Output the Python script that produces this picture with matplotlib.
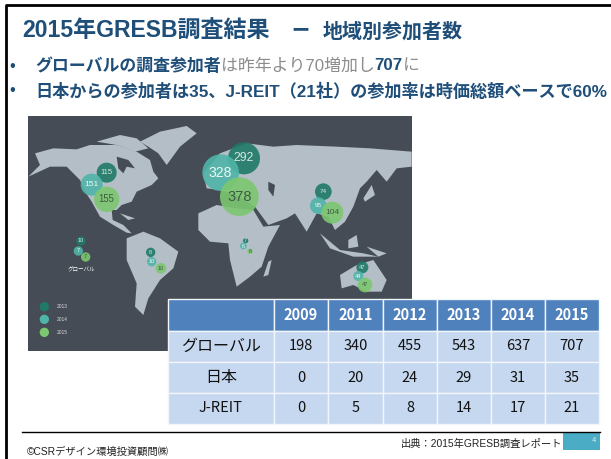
import matplotlib
matplotlib.use("Agg")
import matplotlib.pyplot as plt
from matplotlib.patches import Rectangle, Polygon, Circle

plt.rcParams['font.family'] = ['Liberation Sans', 'Noto Sans CJK JP', 'DejaVu Sans']
TABLE_FONT = ['Noto Sans CJK JP', 'DejaVu Sans']

# table data
years = ['2009', '2011', '2012', '2013', '2014', '2015']
row_names = ['グローバル', '日本', 'J-REIT']
global_counts = [198, 340, 455, 543, 637, 707]
japan_counts = [0, 20, 24, 29, 31, 35]
jreit_counts = [0, 5, 8, 14, 17, 21]
col_edges = [168, 274, 328, 383, 437, 491, 545, 599]
row_edges = [299, 331, 362, 393, 424]

# map bubbles: label, x, y, radius (in 3x crop coordinates of the map)
bubbles_2013 = [('292', 672, 145, 48), ('115', 260, 188, 30), ('74', 910, 245, 25),
                ('10', 183, 393, 14), ('8', 392, 427, 14), ('7', 677, 392, 8), ('47', 1027, 472, 18)]
bubbles_2014 = [('328', 602, 188, 55), ('151', 215, 224, 33), ('95', 895, 287, 25),
                ('7', 175, 423, 14), ('10', 395, 455, 14), ('6', 670, 408, 10), ('44', 1015, 498, 15)]
bubbles_2015 = [('378', 658, 260, 58), ('155', 260, 268, 38), ('104', 937, 308, 33),
                ('7', 197, 441, 14), ('10', 423, 475, 16), ('6', 690, 424, 8), ('47', 1035, 525, 22)]
bubble_years = ['2013', '2014', '2015']
bubble_colors = ['#1f7a68', '#4fb5a8', '#7cc870']
label_colors = ['#d5e8e2', '#eef6f4', '#3f5a42']

# land shapes, same coordinates
north_america = [(45, 130), (100, 115), (170, 118), (210, 105), (290, 105), (350, 125), (390, 150),
                 (400, 185), (415, 205), (395, 225), (350, 245), (335, 275), (305, 285), (290, 300),
                 (275, 300), (278, 330), (310, 345), (335, 370), (320, 368), (280, 345), (240, 320),
                 (215, 275), (195, 245), (180, 210), (140, 170), (90, 170), (25, 200), (60, 165)]
arctic_islands = [(230, 95), (300, 75), (350, 85), (385, 115), (345, 125), (290, 105)]
greenland = [(360, 95), (420, 65), (500, 48), (530, 70), (480, 110), (440, 165), (415, 130), (385, 110)]
south_america = [(320, 385), (370, 365), (420, 385), (475, 425), (460, 475), (420, 510), (385, 565),
                 (370, 615), (345, 590), (350, 520), (320, 450)]
africa = [(535, 310), (590, 285), (650, 295), (700, 300), (730, 350), (780, 345), (745, 410),
          (725, 470), (690, 500), (650, 530), (630, 450), (625, 400), (570, 395), (535, 360)]
eurasia = [(560, 235), (550, 190), (600, 130), (680, 100), (760, 110), (830, 105), (950, 110),
           (1050, 115), (1175, 125), (1175, 170), (1130, 175), (1100, 215), (1070, 180), (1040, 215),
           (1020, 235), (1000, 290), (975, 335), (945, 360), (925, 320), (890, 310), (860, 365),
           (825, 310), (800, 325), (745, 345), (705, 290), (650, 255), (600, 240)]
australia = [(960, 495), (1010, 465), (1060, 450), (1100, 510), (1085, 545), (1040, 545),
             (1000, 525), (965, 535)]
madagascar = [(745, 455), (755, 450), (745, 495), (730, 500)]
japan = [(1055, 225), (1065, 255), (1035, 275), (1030, 265)]
sumatra_java = [(900, 370), (960, 420), (1030, 430), (1075, 440), (1000, 440), (930, 415)]
borneo = [(985, 390), (1010, 375), (1015, 410), (985, 415)]
new_guinea = [(1040, 410), (1100, 430), (1075, 440)]
cuba = [(300, 310), (345, 325), (325, 330)]
land = [north_america, arctic_islands, greenland, south_america, africa, eurasia, australia,
        madagascar, japan, sumatra_java, borneo, new_guinea, cuba]
hudson_bay = [(290, 140), (325, 150), (345, 175), (320, 170), (310, 190), (295, 175)]
caspian = [(745, 215), (765, 225), (760, 260), (745, 240)]
water = [hudson_bay, caspian]

NAVY = '#1f4e79'
GRAY = '#8c8c8c'


def mx(x):
    return 20 + x / 3


def my(y):
    return 110 + y / 3


def draw_runs(ax, x, y, runs):
    # write coloured pieces of one line after each other
    renderer = ax.figure.canvas.get_renderer()
    for s, size, weight, color in runs:
        t = ax.text(x, y, s, fontsize=size, fontweight=weight, color=color, va='center', ha='left')
        x += t.get_window_extent(renderer).width


fig = plt.figure(figsize=(6.11, 4.59), dpi=100)
ax = fig.add_axes([0, 0, 1, 1])
ax.set_xlim(0, 611)
ax.set_ylim(459, 0)
ax.axis('off')

# slide frame
ax.plot([6, 6, 611], [459, 5, 5], color='black', lw=2)

# header
draw_runs(ax, 22, 31, [('2015年GRESB調査結果', 16.6, 'bold', NAVY)])
draw_runs(ax, 291, 31, [('ー', 13, 'bold', NAVY)])
draw_runs(ax, 323, 32, [('地域別参加者数', 14.4, 'bold', NAVY)])
ax.text(9, 66, '•', fontsize=12, color=NAVY, va='center')
ax.text(9, 91, '•', fontsize=12, color=NAVY, va='center')
draw_runs(ax, 35, 66, [('グローバルの調査参加者', 12.2, 'bold', NAVY), ('は昨年より70増加し', 12.2, 'normal', GRAY),
                       ('707', 12.2, 'bold', NAVY), ('に', 12.2, 'normal', GRAY)])
draw_runs(ax, 35, 91, [('日本からの参加者は35、J-REIT（21社）の参加率は時価総額ベースで60%', 12.37, 'bold', NAVY)])

# map
ax.add_patch(Rectangle((28, 116), 384, 235, color='#454c55', lw=0, zorder=1))
for shape in land:
    ax.add_patch(Polygon([(mx(a), my(b)) for a, b in shape], color='#b4bec6', lw=0, zorder=2))
for shape in water:
    ax.add_patch(Polygon([(mx(a), my(b)) for a, b in shape], color='#454c55', lw=0, zorder=2))

for bubbles, color, text_color in zip([bubbles_2013, bubbles_2014, bubbles_2015], bubble_colors, label_colors):
    for label, a, b, r in bubbles:
        ax.add_patch(Circle((mx(a), my(b)), r / 3, color=color, alpha=0.9, lw=0, zorder=3))
        size = max(4, r / 3 * 0.55)
        ax.text(mx(a), my(b), label, fontsize=size, color=text_color, ha='center', va='center', zorder=4)
ax.text(mx(183), my(480), 'グローバル', fontsize=4, color='white', ha='center', va='center', zorder=4)

# map legend
for year, color, b in zip(bubble_years, bubble_colors, [590, 628, 667]):
    ax.add_patch(Circle((mx(73), my(b)), 14 / 3, color=color, lw=0, zorder=3))
    ax.text(mx(110), my(b), year, fontsize=3.5, color='#dddddd', va='center', zorder=4)

# table
rows = [global_counts, japan_counts, jreit_counts]
for i in range(len(col_edges) - 1):
    x0, x1 = col_edges[i], col_edges[i + 1]
    for j in range(len(row_edges) - 1):
        y0, y1 = row_edges[j], row_edges[j + 1]
        face = '#4f81bd' if j == 0 else '#c6d8ef'
        ax.add_patch(Rectangle((x0, y0), x1 - x0, y1 - y0, facecolor=face, edgecolor='#f2f6fb', lw=1, zorder=5))

for i, year in enumerate(years):
    cx = (col_edges[i + 1] + col_edges[i + 2]) / 2
    ax.text(cx, (row_edges[0] + row_edges[1]) / 2, year, fontsize=10.5, fontweight='bold', color='white',
            family=TABLE_FONT, ha='center', va='center', zorder=6)
    for j, row in enumerate(rows):
        ax.text(cx, (row_edges[j + 1] + row_edges[j + 2]) / 2, str(row[i]), fontsize=10.5, color='#111111',
                family=TABLE_FONT, ha='center', va='center', zorder=6)
for j, name in enumerate(row_names):
    size = 10.5 if name == 'J-REIT' else 11.5
    ax.text((col_edges[0] + col_edges[1]) / 2, (row_edges[j + 1] + row_edges[j + 2]) / 2, name, fontsize=size,
            family=TABLE_FONT, color='#111111', ha='center', va='center', zorder=6)

# footer
ax.plot([22, 600], [432, 432], color='black', lw=1)
ax.add_patch(Rectangle((563, 433), 37, 17, color='#4bacc6', lw=0))
ax.text(594, 441, '4', fontsize=5.5, color='#d8eef4', ha='center', va='center')
ax.text(401, 444, '出典：2015年GRESB調査レポート', fontsize=7.4, color='#222222', va='center')
ax.text(27, 452, '©CSRデザイン環境投資顧問㈱', fontsize=7.4, color='#222222', va='center')

fig.savefig('out.png', dpi=100)
